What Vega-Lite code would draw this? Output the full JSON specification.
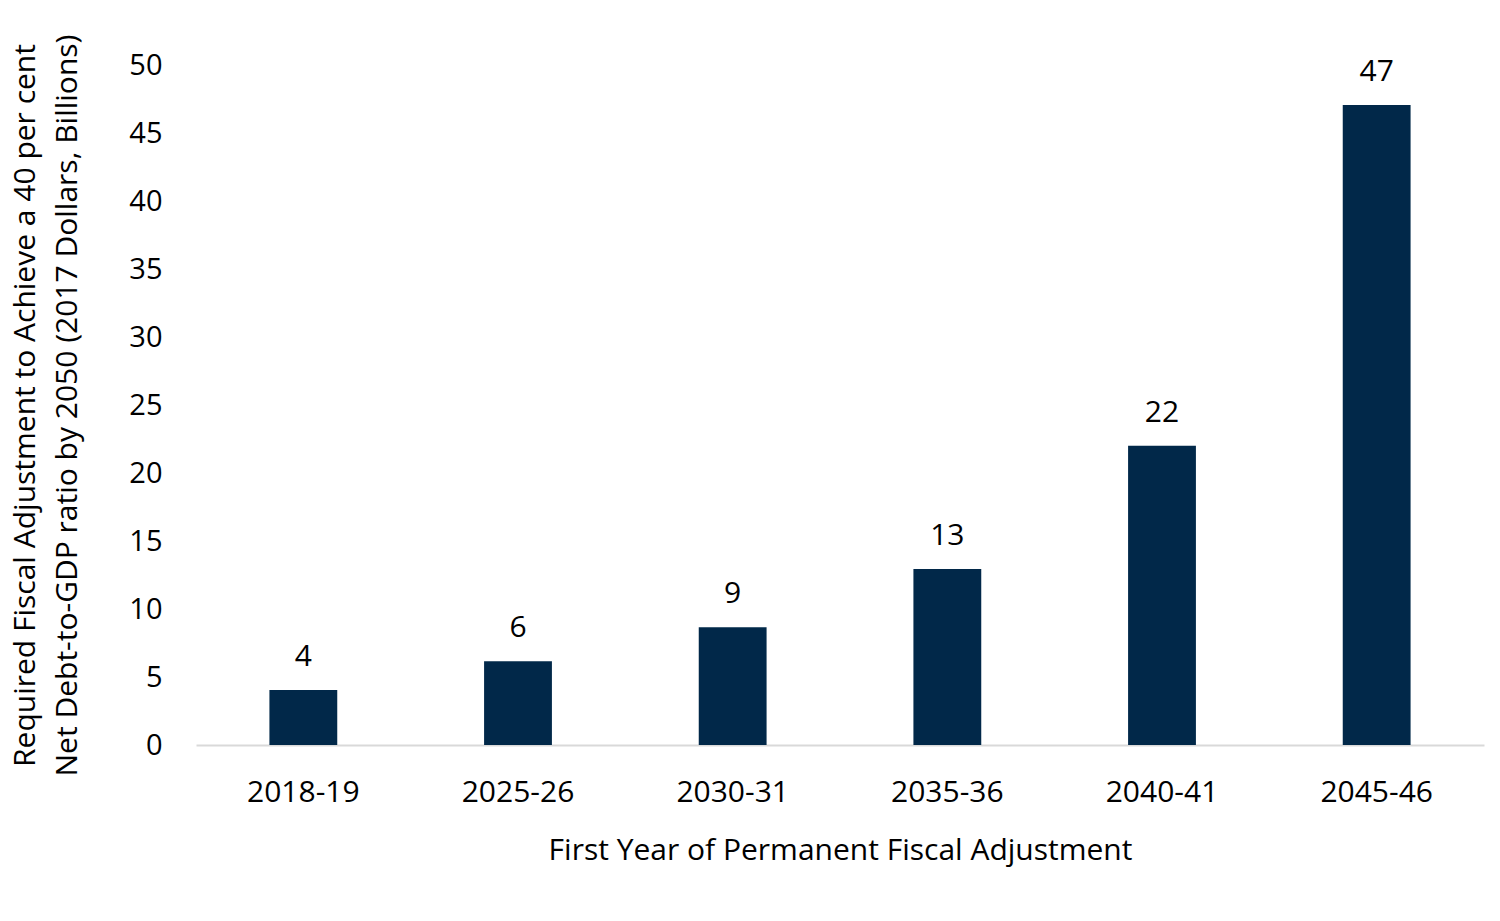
{
  "$schema": "https://vega.github.io/schema/vega-lite/v6.json",
  "width": 1288,
  "height": 680,
  "autosize": {"type": "none"},
  "padding": {"left": 196, "top": 65, "right": 16, "bottom": 176},
  "background": "white",
  "config": {
    "view": {"stroke": null},
    "font": "Open Sans",
    "axis": {"labelFont": "Open Sans", "titleFont": "Open Sans", "labelColor": "#000000", "titleColor": "#000000", "titleFontWeight": "normal", "grid": false, "ticks": false}
  },
  "data": {
    "values": [
      {"period": "2018-19", "value": 4.04, "label": "4"},
      {"period": "2025-26", "value": 6.15, "label": "6"},
      {"period": "2030-31", "value": 8.65, "label": "9"},
      {"period": "2035-36", "value": 12.95, "label": "13"},
      {"period": "2040-41", "value": 22.0, "label": "22"},
      {"period": "2045-46", "value": 47.05, "label": "47"}
    ]
  },
  "encoding": {
    "x": {
      "field": "period", "type": "nominal", "sort": null,
      "scale": {"paddingInner": 0.684, "paddingOuter": 0.342},
      "axis": {
        "title": "First Year of Permanent Fiscal Adjustment",
        "labelAngle": 0, "labelFontSize": 30, "titleFontSize": 30,
        "labelPadding": 32, "titlePadding": 28,
        "domainColor": "#d9d9d9", "domainWidth": 2
      }
    },
    "y": {
      "field": "value", "type": "quantitative",
      "scale": {"domain": [0, 50], "nice": false},
      "axis": {
        "title": ["Required Fiscal Adjustment to Achieve a 40 per cent", "Net Debt-to-GDP ratio by 2050 (2017 Dollars, Billions)"],
        "values": [0, 5, 10, 15, 20, 25, 30, 35, 40, 45, 50],
        "domain": false, "labelFontSize": 29, "titleFontSize": 30,
        "labelPadding": 34, "titlePadding": 46, "titleLineHeight": 42
      }
    }
  },
  "layer": [
    {"mark": {"type": "bar", "color": "#012849"}},
    {
      "mark": {"type": "text", "baseline": "alphabetic", "dy": -24, "fontSize": 30, "color": "#000000"},
      "encoding": {"text": {"field": "label"}}
    }
  ]
}
